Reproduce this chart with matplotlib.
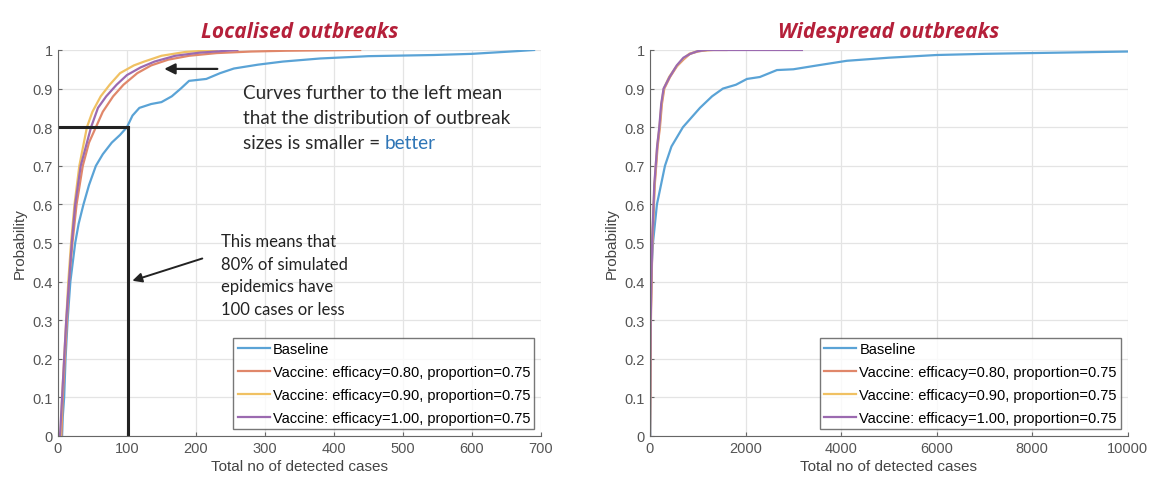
import matplotlib.pyplot as plt

# Empirical CDFs of outbreak size: (total detected cases, cumulative probability)
loc_baseline_x = [6, 7, 9, 11, 14, 18, 25, 30, 37, 45, 55, 65, 78, 90, 100, 108, 118, 135,
                  150, 165, 178, 190, 215, 235, 255, 290, 326, 380, 450, 545, 600, 665, 690]
loc_baseline_y = [0, 0.05, 0.1, 0.2, 0.3, 0.4, 0.5, 0.55, 0.6, 0.65, 0.7, 0.73, 0.76, 0.78, 0.8,
                  0.83, 0.85, 0.86, 0.865, 0.88, 0.9, 0.92, 0.925, 0.94, 0.952, 0.962, 0.97,
                  0.978, 0.984, 0.987, 0.99, 0.997, 1.0]
loc_v80_x = [5, 7, 10, 13, 16, 21, 27, 36, 45, 55, 65, 80, 95, 115, 135, 160, 190, 230, 280, 330, 438]
loc_v80_y = [0, 0.1, 0.2, 0.3, 0.4, 0.5, 0.6, 0.7, 0.76, 0.8, 0.84, 0.88, 0.91, 0.94, 0.96,
             0.975, 0.985, 0.992, 0.996, 0.998, 1.0]
loc_v90_x = [4, 6, 9, 12, 15, 19, 24, 31, 42, 50, 62, 75, 90, 110, 125, 150, 185, 230]
loc_v90_y = [0, 0.1, 0.2, 0.3, 0.4, 0.5, 0.6, 0.7, 0.8, 0.84, 0.88, 0.91, 0.94, 0.96, 0.97,
             0.985, 0.995, 1.0]
loc_v100_x = [3, 6, 9, 12, 16, 20, 25, 33, 48, 58, 70, 85, 100, 120, 140, 170, 205, 260]
loc_v100_y = [0, 0.1, 0.2, 0.3, 0.4, 0.5, 0.6, 0.7, 0.8, 0.85, 0.88, 0.91, 0.935, 0.955, 0.97,
              0.985, 0.993, 1.0]

wide_baseline_x = [5, 10, 20, 63, 146, 314, 450, 690, 1046, 1300, 1527, 1800, 2030, 2300, 2657,
                   3000, 3500, 4120, 5000, 6000, 7000, 8000, 9000, 10000]
wide_baseline_y = [0, 0.2, 0.4, 0.5, 0.6, 0.7, 0.75, 0.8, 0.85, 0.88, 0.9, 0.91, 0.925, 0.93,
                   0.948, 0.95, 0.96, 0.972, 0.98, 0.987, 0.99, 0.992, 0.994, 0.996]
wide_v80_x = [0, 20, 50, 100, 160, 209, 250, 300, 420, 565, 700, 836, 1000, 1200, 1600]
wide_v80_y = [0, 0.3, 0.5, 0.65, 0.75, 0.8, 0.86, 0.9, 0.93, 0.958, 0.975, 0.99, 0.996, 1.0, 1.0]
wide_v90_x = [0, 15, 45, 95, 150, 200, 240, 290, 400, 540, 680, 820, 1000, 1300]
wide_v90_y = [0, 0.3, 0.5, 0.65, 0.75, 0.8, 0.86, 0.9, 0.93, 0.955, 0.975, 0.99, 0.997, 1.0]
wide_v100_x = [0, 15, 45, 90, 150, 195, 235, 285, 410, 560, 700, 840, 1000, 1200, 3180]
wide_v100_y = [0, 0.3, 0.5, 0.65, 0.75, 0.8, 0.86, 0.9, 0.93, 0.96, 0.98, 0.99, 0.997, 1.0, 1.0]

labels = ['Baseline',
          'Vaccine: efficacy=0.80, proportion=0.75',
          'Vaccine: efficacy=0.90, proportion=0.75',
          'Vaccine: efficacy=1.00, proportion=0.75']
colors = ['#5aa3d6', '#e0876a', '#f0c163', '#9b6ab0']

plt.rcParams['font.family'] = ['Liberation Sans', 'DejaVu Sans']

fig = plt.figure(figsize=(11.52, 4.81), dpi=100)
ax1 = fig.add_axes([0.0503, 0.0915, 0.4193, 0.8025])
ax2 = fig.add_axes([0.5642, 0.0915, 0.4148, 0.8025])

panels = [
    (ax1, [(loc_baseline_x, loc_baseline_y), (loc_v80_x, loc_v80_y),
           (loc_v90_x, loc_v90_y), (loc_v100_x, loc_v100_y)], 700, range(0, 701, 100),
     'Localised outbreaks'),
    (ax2, [(wide_baseline_x, wide_baseline_y), (wide_v80_x, wide_v80_y),
           (wide_v90_x, wide_v90_y), (wide_v100_x, wide_v100_y)], 10000, range(0, 10001, 2000),
     'Widespread outbreaks'),
]

for ax, curves, xmax, xticks, title in panels:
    for (xs, ys), c, lab in zip(curves, colors, labels):
        ax.plot(xs, ys, color=c, lw=1.6, label=lab)
    ax.set_xlim(0, xmax)
    ax.set_ylim(0, 1)
    ax.set_xticks(list(xticks))
    ax.set_yticks([i / 10 for i in range(11)])
    ax.set_yticklabels(['0'] + ['%.1f' % (i / 10) for i in range(1, 10)] + ['1'])
    ax.grid(True, color='#e4e4e4', lw=0.9)
    ax.set_axisbelow(True)
    for s in ['top', 'right']:
        ax.spines[s].set_visible(False)
    for s in ['left', 'bottom']:
        ax.spines[s].set_color('#666666')
    ax.tick_params(direction='in', length=3, colors='#666666', labelcolor='#555555', labelsize=10.5)
    ax.set_xlabel('Total no of detected cases', fontsize=11, color='#444444', labelpad=3)
    ax.set_ylabel('Probability', fontsize=11, color='#444444', labelpad=4)
    ax.set_title(title, fontsize=15, color='#b5203a', style='italic', weight='bold',
                 family=['Open Sans', 'DejaVu Sans'], pad=9)
    leg = ax.legend(loc='lower right', fontsize=10.5, frameon=True, fancybox=False,
                    handlelength=2.2, handletextpad=0.2, borderpad=0.3, labelspacing=0.62,
                    borderaxespad=0.45)
    leg.get_frame().set_edgecolor('#555555')
    leg.get_frame().set_linewidth(1.0)

# 80th percentile guide on the localised panel
ax1.plot([0, 102], [0.8, 0.8], color='#222222', lw=2.2)
ax1.plot([102, 102], [0.8, 0], color='#222222', lw=2.2)

note_font = ['Lato', 'DejaVu Sans']
ax1.annotate('', xy=(150, 0.951), xytext=(235, 0.951),
             arrowprops=dict(arrowstyle='-|>', color='#222222', lw=1.6, mutation_scale=16))
ax1.text(268, 0.913, 'Curves further to the left mean\nthat the distribution of outbreak',
         fontsize=13.6, color='#2a2a2a', family=note_font, va='top', linespacing=1.6)
last = ax1.text(268, 0.745, 'sizes is smaller = ', fontsize=13.6, color='#2a2a2a',
                family=note_font, va='baseline')
ax1.annotate('better', xy=(1, 0), xycoords=last, fontsize=13.6, color='#2e75b6',
             family=note_font, va='bottom', ha='left')

ax1.annotate('', xy=(104, 0.40), xytext=(213, 0.462),
             arrowprops=dict(arrowstyle='-|>', color='#222222', lw=1.4, mutation_scale=14))
ax1.text(236, 0.525, 'This means that\n80% of simulated\nepidemics have\n100 cases or less',
         fontsize=12, color='#222222', family=note_font, va='top', linespacing=1.5)

fig.savefig('out.png', dpi=100)
